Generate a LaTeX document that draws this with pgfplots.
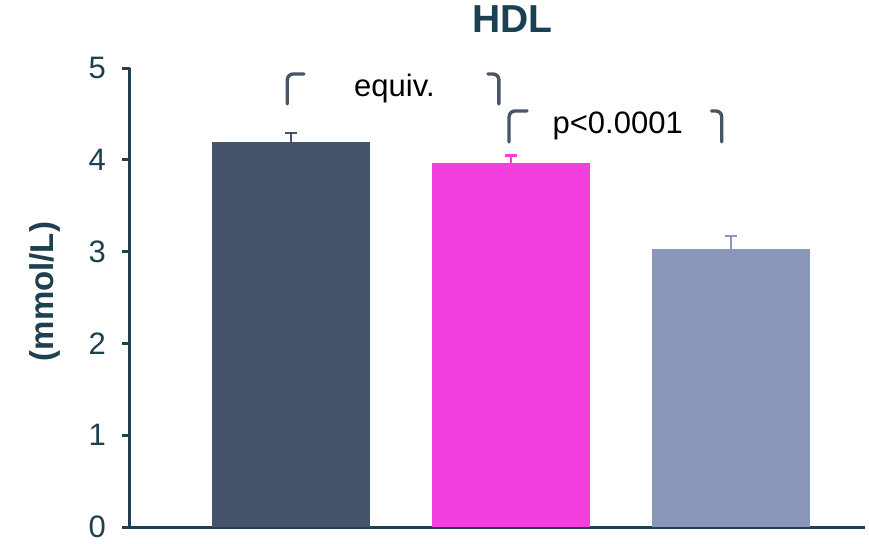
\documentclass[border=0pt]{standalone}
\usepackage{fontspec}
\setmainfont{Liberation Sans}
\usepackage{pgfplots}
\pgfplotsset{compat=1.18}
\definecolor{axcol}{RGB}{30,64,80}
\definecolor{titlecol}{RGB}{27,64,82}
\definecolor{barA}{RGB}{69,84,106}
\definecolor{barB}{RGB}{242,63,222}
\definecolor{barC}{RGB}{138,151,186}
\definecolor{brk}{RGB}{72,84,104}
\begin{document}
\begin{tikzpicture}
\path[use as bounding box] (-65pt,-8pt) rectangle (369.5pt,263.5pt);
\begin{axis}[
  at={(0,0)}, anchor=south west,
  scale only axis, width=367.5pt, height=229.5pt,
  xmin=-0.732, xmax=2.609, ymin=0, ymax=5,
  axis lines=left,
  axis line style={-, axcol, line width=1.5pt},
  xtick=\empty, ytick={0,1,2,3,4,5},
  tick style={axcol, line width=1.5pt},
  tick align=outside, major tick length=4pt,
  yticklabel style={font=\fontsize{15.5}{18}\selectfont, text=axcol, xshift=-4.5pt},
  /pgf/number format/assume math mode=true,
  ylabel={(mmol/L)},
  ylabel style={font=\fontsize{16.5}{20}\selectfont\bfseries, text=axcol, at={(axis description cs:-0.1156,0.513)}, anchor=center},
  title={HDL},
  title style={font=\fontsize{19.5}{22}\selectfont\bfseries, text=titlecol, at={(axis description cs:0.52,1.081)}, anchor=center},
  clip=false,
]
\addplot[ybar, bar width=79pt, bar shift=0pt, fill=barA, draw=none,
  error bars/.cd, y dir=plus, y explicit,
  error bar style={barA, line width=1.1pt},
  error mark options={rotate=90, mark size=3pt, line width=1.2pt, barA}]
  coordinates {(0,4.19) +- (0,0.10)};
\addplot[ybar, bar width=79pt, bar shift=0pt, fill=barB, draw=none,
  error bars/.cd, y dir=plus, y explicit,
  error bar style={barB, line width=1.1pt},
  error mark options={rotate=90, mark size=3pt, line width=1.2pt, barB}]
  coordinates {(1,3.965) +- (0,0.08)};
\addplot[ybar, bar width=79pt, bar shift=0pt, fill=barC, draw=none,
  error bars/.cd, y dir=plus, y explicit,
  error bar style={barC, line width=1.1pt},
  error mark options={rotate=90, mark size=3pt, line width=1.2pt, barC}]
  coordinates {(2,3.028) +- (0,0.14)};
% brackets
\draw[brk, line width=1.7pt, rounded corners=3pt, line cap=round]
  (axis cs:0.059,4.935) -- (axis cs:-0.017,4.935) -- (axis cs:-0.017,4.608);
\draw[brk, line width=1.7pt, rounded corners=3pt, line cap=round]
  (axis cs:0.895,4.935) -- (axis cs:0.945,4.935) -- (axis cs:0.945,4.608);
\draw[brk, line width=1.7pt, rounded corners=3pt, line cap=round]
  (axis cs:1.073,4.532) -- (axis cs:0.991,4.532) -- (axis cs:0.991,4.194);
\draw[brk, line width=1.7pt, rounded corners=3pt, line cap=round]
  (axis cs:1.912,4.532) -- (axis cs:1.958,4.532) -- (axis cs:1.958,4.194);
\node[anchor=base, font=\fontsize{15.5}{18}\selectfont, inner sep=0pt] at (axis cs:0.470,4.687) {equiv.};
\node[anchor=base, font=\fontsize{15.5}{18}\selectfont, inner sep=0pt] at (axis cs:1.485,4.289) {p<0.0001};
\end{axis}
\end{tikzpicture}
\end{document}
